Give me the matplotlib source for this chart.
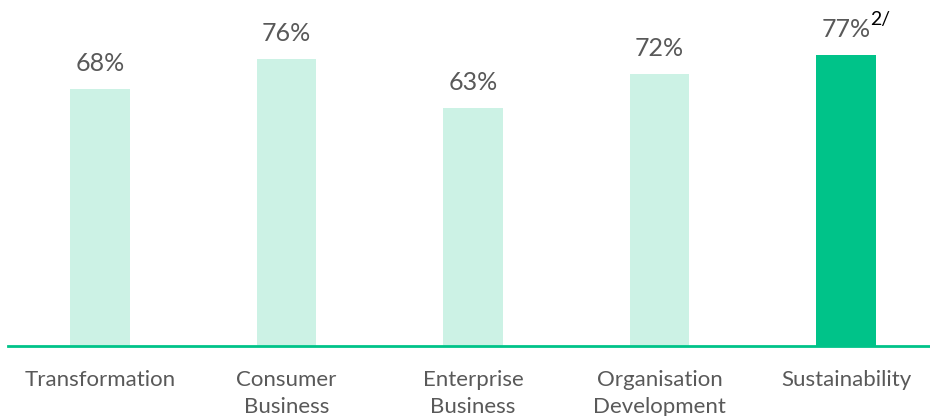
import numpy as np
import matplotlib.pyplot as plt

categories = ["Transformation", "Consumer\nBusiness", "Enterprise\nBusiness",
              "Organisation\nDevelopment", "Sustainability"]
values = [68, 76, 63, 72, 77]
highlight = [False, False, False, False, True]

light = "#CCF2E5"
dark = "#00C389"
grey = "#595959"

plt.rcParams['font.family'] = ['Lato', 'DejaVu Sans']

fig = plt.figure(figsize=(9.3, 4.16), dpi=100)
ax = fig.add_axes([8 / 930, 70 / 416, 922 / 930, 346 / 416])

x = np.arange(len(categories))
colors = [dark if h else light for h in highlight]
ax.bar(x, values, width=0.32, color=colors, zorder=1)

for xi, v, h in zip(x, values, highlight):
    t = ax.annotate(f"{v}%", (xi, v), xytext=(0, 10), textcoords="offset points",
                    ha="center", va="bottom", fontsize=18, color=grey)
    if h:
        # superscript note marker
        ax.annotate("2/", (1, 0), xycoords=t, xytext=(0, 9), textcoords="offset points",
                    ha="left", va="bottom", fontsize=14, color="black")

ax.set_xlim(-0.493, 4.45)
ax.set_ylim(0, 91.5)
ax.set_xticks(x)
ax.set_xticklabels(categories, fontsize=16, color=grey, linespacing=1.45)
ax.tick_params(axis="x", length=0, pad=17)
ax.set_yticks([])
for s in ["top", "right", "left"]:
    ax.spines[s].set_visible(False)
ax.spines["bottom"].set_color(dark)
ax.spines["bottom"].set_linewidth(2)

fig.savefig("out.png", dpi=100)
